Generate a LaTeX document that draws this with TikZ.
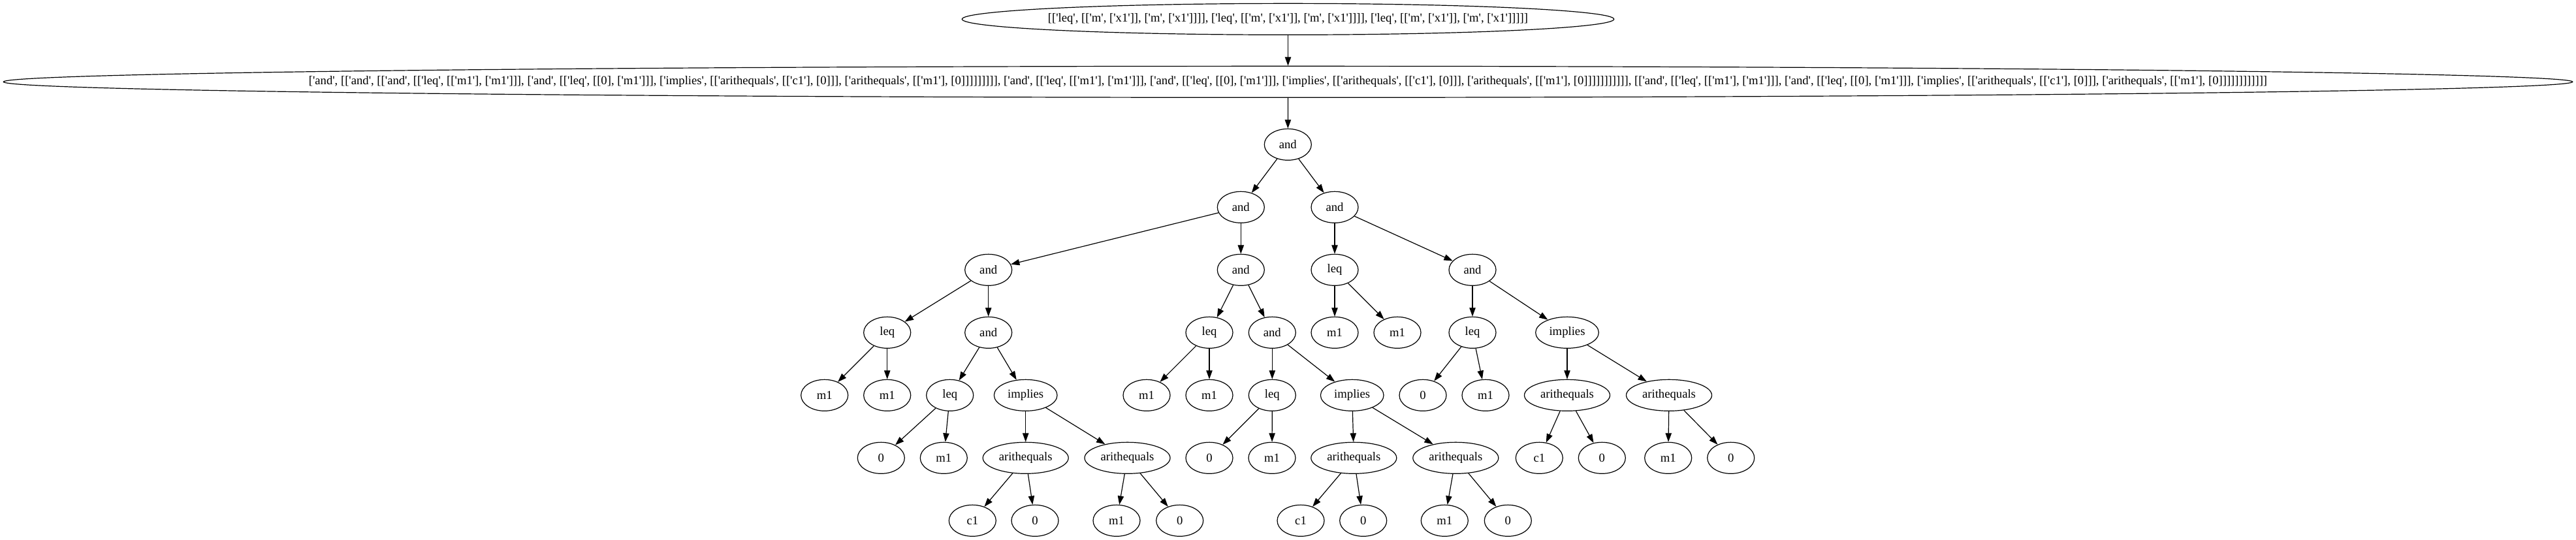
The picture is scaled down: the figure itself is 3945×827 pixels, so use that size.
\documentclass[tikz,border=0pt]{standalone}
\usepackage{fontspec}
\newfontfamily\gvfont{Liberation Serif}[Ligatures=TeXOff]
\usetikzlibrary{shapes.geometric,arrows.meta}
\begin{document}
\begin{tikzpicture}[x=0.75pt,y=-0.75pt,
  gv/.style={ellipse,draw,line width=0.9pt,inner sep=0pt,minimum width=54pt,minimum height=36pt,
    font=\gvfont\fontsize{14}{16.8}\selectfont},
  gvimp/.style={gv,minimum width=72.5pt},
  gvar/.style={gv,minimum width=98.25pt},
  edge/.style={line width=0.9pt,-{Triangle[length=10pt,width=7pt]}}]
\useasboundingbox (0,0) rectangle (3945,827);
\def\rA{29.33}\def\rB{125.33}\def\rC{221.33}\def\rD{317.33}\def\rE{413.33}
\def\rF{509.33}\def\rG{605.33}\def\rH{701.33}\def\rI{797.33}
\node[gv,minimum width=748.8pt] (top) at (1972.5,\rA) {\makebox[0pt]{[['leq', [['m', ['x1']], ['m', ['x1']]]], ['leq', [['m', ['x1']], ['m', ['x1']]]], ['leq', [['m', ['x1']], ['m', ['x1']]]]]}};
\node[gv,minimum width=2950.8pt] (sec) at (1972.5,\rB) {\makebox[0pt]{['and', [['and', [['and', [['leq', [['m1'], ['m1']]], ['and', [['leq', [[0], ['m1']]], ['implies', [['arithequals', [['c1'], [0]]], ['arithequals', [['m1'], [0]]]]]]]]], ['and', [['leq', [['m1'], ['m1']]], ['and', [['leq', [[0], ['m1']]], ['implies', [['arithequals', [['c1'], [0]]], ['arithequals', [['m1'], [0]]]]]]]]]]], [['and', [['leq', [['m1'], ['m1']]], ['and', [['leq', [[0], ['m1']]], ['implies', [['arithequals', [['c1'], [0]]], ['arithequals', [['m1'], [0]]]]]]]]]]]]}};
\node[gv] (a0) at (1972.3,\rC) {and};
\node[gv] (a1) at (1900.3,\rD) {and};
\node[gv] (a2) at (2044,\rD) {and};
\node[gv] (b1) at (1513.7,\rE) {and};
\node[gv] (b2) at (1900.3,\rE) {and};
\node[gv] (b3) at (2044,\rE) {leq};
\node[gv] (b4) at (2255,\rE) {and};
\node[gv] (c1) at (1358.7,\rF) {leq};
\node[gv] (c2) at (1513.7,\rF) {and};
\node[gv] (c3) at (1852,\rF) {leq};
\node[gv] (c4) at (1948.3,\rF) {and};
\node[gv] (c5) at (2044,\rF) {m1};
\node[gv] (c6) at (2140,\rF) {m1};
\node[gv] (c7) at (2255,\rF) {leq};
\node[gvimp] (c8) at (2400,\rF) {implies};
\node[gv] (d1) at (1262.7,\rG) {m1};
\node[gv] (d2) at (1358.7,\rG) {m1};
\node[gv] (d3) at (1454.7,\rG) {leq};
\node[gvimp] (d4) at (1570.7,\rG) {implies};
\node[gv] (d5) at (1756,\rG) {m1};
\node[gv] (d6) at (1852,\rG) {m1};
\node[gv] (d7) at (1948.3,\rG) {leq};
\node[gvimp] (d8) at (2070.7,\rG) {implies};
\node[gv] (d9) at (2179,\rG) {0};
\node[gv] (d10) at (2275,\rG) {m1};
\node[gvar] (d11) at (2400,\rG) {arithequals};
\node[gvar] (d12) at (2556,\rG) {arithequals};
\node[gv] (e1) at (1349.3,\rH) {0};
\node[gv] (e2) at (1445.3,\rH) {m1};
\node[gvar] (e3) at (1570.7,\rH) {arithequals};
\node[gvar] (e4) at (1726.5,\rH) {arithequals};
\node[gv] (e5) at (1852,\rH) {0};
\node[gv] (e6) at (1948,\rH) {m1};
\node[gvar] (e7) at (2073.3,\rH) {arithequals};
\node[gvar] (e8) at (2229.3,\rH) {arithequals};
\node[gv] (e9) at (2357.3,\rH) {c1};
\node[gv] (e10) at (2453.3,\rH) {0};
\node[gv] (e11) at (2554.7,\rH) {m1};
\node[gv] (e12) at (2650.7,\rH) {0};
\node[gv] (f1) at (1489.3,\rI) {c1};
\node[gv] (f2) at (1585,\rI) {0};
\node[gv] (f3) at (1710,\rI) {m1};
\node[gv] (f4) at (1806.7,\rI) {0};
\node[gv] (f5) at (1992,\rI) {c1};
\node[gv] (f6) at (2087.7,\rI) {0};
\node[gv] (f7) at (2212.3,\rI) {m1};
\node[gv] (f8) at (2309.3,\rI) {0};
\foreach \p/\c in {top/sec,sec/a0,a0/a1,a0/a2,a1/b1,a1/b2,a2/b3,a2/b4,
  b1/c1,b1/c2,b2/c3,b2/c4,b3/c5,b3/c6,b4/c7,b4/c8,
  c1/d1,c1/d2,c2/d3,c2/d4,c3/d5,c3/d6,c4/d7,c4/d8,c7/d9,c7/d10,c8/d11,c8/d12,
  d3/e1,d3/e2,d4/e3,d4/e4,d7/e5,d7/e6,d8/e7,d8/e8,d11/e9,d11/e10,d12/e11,d12/e12,
  e3/f1,e3/f2,e4/f3,e4/f4,e7/f5,e7/f6,e8/f7,e8/f8}
  \draw[edge] (\p) -- (\c);
\end{tikzpicture}
\end{document}
